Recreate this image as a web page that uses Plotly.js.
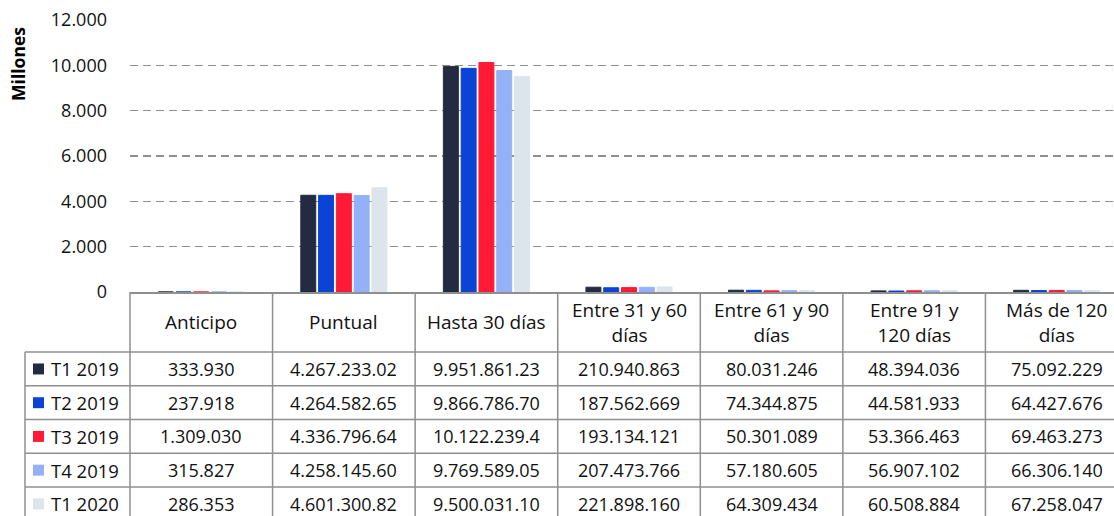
<!DOCTYPE html>
<html>
<head>
<meta charset="utf-8">
<script src="https://cdn.plot.ly/plotly-3.0.1.min.js"></script>
<style>
  html, body { margin: 0; padding: 0; overflow: hidden; background: #fff; }
</style>
</head>
<body>
<div id="chart"></div>
<script>
// Categories (x axis) and the two-line labels shown in the table header
const categories = ['Anticipo', 'Puntual', 'Hasta 30 días', 'Entre 31 y 60 días',
    'Entre 61 y 90 días', 'Entre 91 y 120 días', 'Más de 120 días'];
const headerLabels = ['Anticipo', 'Puntual', 'Hasta 30 días', 'Entre 31 y 60<br>días',
    'Entre 61 y 90<br>días', 'Entre 91 y<br>120 días', 'Más de 120<br>días'];

// Series names and values (units); bars are drawn in millions
const seriesNames = ['T1 2019', 'T2 2019', 'T3 2019', 'T4 2019', 'T1 2020'];
const t1_2019 = [333930, 4267233020, 9951861230, 210940863, 80031246, 48394036, 75092229];
const t2_2019 = [237918, 4264582650, 9866786700, 187562669, 74344875, 44581933, 64427676];
const t3_2019 = [1309030, 4336796640, 10122239400, 193134121, 50301089, 53366463, 69463273];
const t4_2019 = [315827, 4258145600, 9769589050, 207473766, 57180605, 56907102, 66306140];
const t1_2020 = [286353, 4601300820, 9500031100, 221898160, 64309434, 60508884, 67258047];
const seriesValues = [t1_2019, t2_2019, t3_2019, t4_2019, t1_2020];

const yTicks = [0, 2000, 4000, 6000, 8000, 10000, 12000];

const colors = ['#232a42', '#0b44d4', '#ff1a35', '#94b1f7', '#dce4ec'];

// ---- geometry (pixels) ----
const W = 1128, H = 516;
const plotL = 130, plotT = 20, plotB = 292.5;
const plotW = W - plotL, plotH = plotB - plotT;
const rowTop = 352.7, rowH = 33.8;
const labelColL = 25;
const gridCol = '#8f8f8f';
const FONT = 'Open Sans, sans-serif';

const px = x => (x - plotL) / plotW;      // pixel -> paper x
const py = y => (plotB - y) / plotH;      // pixel -> paper y

// number formatting like the source table (dots, long cells clipped)
const fmt = v => Math.round(v).toString().replace(/\B(?=(\d{3})+(?!\d))/g, '.').slice(0, 12);

const traces = seriesNames.map((name, i) => ({
    type: 'bar',
    name: name,
    x: categories,
    y: seriesValues[i].map(v => v / 1e6),
    marker: { color: colors[i], line: { width: 1, color: colors[i] } },
    hoverinfo: 'skip'
}));

const shapes = [];
const annotations = [];
const nCat = categories.length;
const line = (x0, y0, x1, y1) => shapes.push({
    type: 'line', xref: 'paper', yref: 'paper',
    x0: x0, y0: y0, x1: x1, y1: y1,
    line: { color: gridCol, width: 1.5 }, layer: 'above'
});

// vertical table lines (column boundaries)
for (let k = 0; k <= nCat; k++) {
    line(k / nCat, 0, k / nCat, py(H + 10));
}
// row label column left border
line(px(labelColL), py(rowTop), px(labelColL), py(H + 10));
// horizontal table lines
for (let r = 0; r <= seriesNames.length; r++) {
    const y = py(rowTop + r * rowH);
    line(px(labelColL), y, 1, y);
}

// header labels
headerLabels.forEach((lab, k) => {
    annotations.push({
        xref: 'paper', yref: 'paper', x: (k + 0.5) / nCat, y: py((plotB + rowTop) / 2),
        text: lab, showarrow: false, xanchor: 'center', yanchor: 'middle',
        font: { family: FONT, size: 19, color: '#111' }
    });
});

// rows: legend key, label, values
seriesNames.forEach((name, r) => {
    const yc = rowTop + (r + 0.5) * rowH;
    shapes.push({
        type: 'rect', xref: 'paper', yref: 'paper',
        x0: px(33), x1: px(44), y0: py(yc - 5.5), y1: py(yc + 5.5),
        fillcolor: colors[r], line: { width: 0 }
    });
    annotations.push({
        xref: 'paper', yref: 'paper', x: px(49), y: py(yc),
        text: name, showarrow: false, xanchor: 'left', yanchor: 'middle',
        font: { family: FONT, size: 18.5, color: '#111' }
    });
    seriesValues[r].forEach((v, k) => {
        annotations.push({
            xref: 'paper', yref: 'paper', x: (k + 0.5) / nCat, y: py(yc),
            text: fmt(v), showarrow: false, xanchor: 'center', yanchor: 'middle',
            font: { family: FONT, size: 18, color: '#111' }
        });
    });
});

// y axis title
annotations.push({
    xref: 'paper', yref: 'paper', x: px(18), y: py(64),
    text: '<b>Millones</b>', textangle: -90, showarrow: false,
    xanchor: 'center', yanchor: 'middle',
    font: { family: FONT, size: 17.5, color: '#000' }
});

const layout = {
    width: W, height: H,
    margin: { l: plotL, r: 0, t: plotT, b: H - plotB, pad: 0 },
    paper_bgcolor: '#fff', plot_bgcolor: '#fff',
    separators: ',.',
    showlegend: false,
    barmode: 'group',
    bargap: 0.376,
    bargroupgap: 0.16,
    font: { family: FONT, size: 18, color: '#111' },
    xaxis: {
        showticklabels: false, showgrid: false, zeroline: false,
        showline: true, linecolor: gridCol, linewidth: 1.5,
        range: [-0.5, nCat - 0.5]
    },
    yaxis: {
        range: [0, 12000], tickvals: yTicks, tickformat: ',d',
        showgrid: true, gridcolor: gridCol, gridwidth: 1.5, griddash: '8px,5px',
        zeroline: false, showline: false, ticks: '',
        ticklabelstandoff: 22,
        tickfont: { family: FONT, size: 18, color: '#111' }
    },
    shapes: shapes,
    annotations: annotations
};

Plotly.newPlot('chart', traces, layout, { displayModeBar: false, staticPlot: true });
</script>
</body>
</html>
